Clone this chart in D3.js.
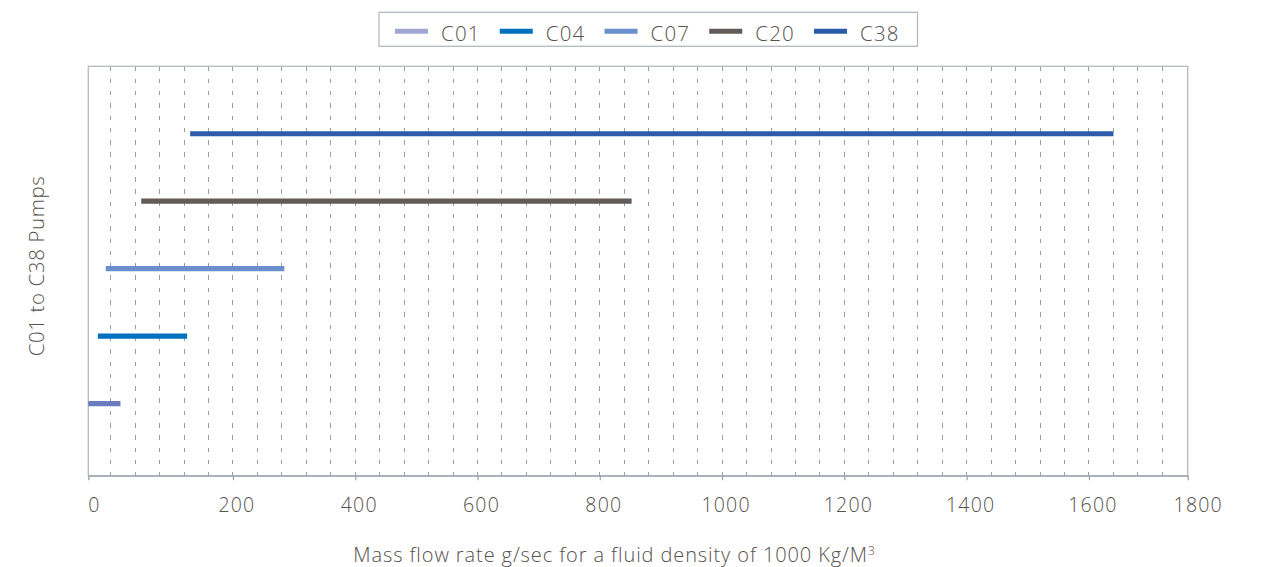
<!DOCTYPE html>
<html>
<head>
<meta charset="utf-8">
<script src="https://cdn.jsdelivr.net/npm/d3@7"></script>
<style>
  html, body { margin: 0; padding: 0; background: #ffffff; }
  svg { display: block; }
  text { font-family: "Open Sans", "Noto Sans", sans-serif; fill: #55514d; font-weight: 350; }
</style>
</head>
<body>
<svg id="chart" width="1261" height="567"></svg>
<script>
// ---- data ----
const pumps = ["C01", "C04", "C07", "C20", "C38"];
const flowMin = [-36.6, -21, -8, 50, 130];
const flowMax = [16, 125, 284, 852, 1640];
const barColors = ["#6a7bbf", "#0070c0", "#6b8fcc", "#625b57", "#2a5caa"];
const legendColors = ["#a0a8d2", "#0070c0", "#6b8fcc", "#625b57", "#2a5caa"];
const xTickLabels = [0, 200, 400, 600, 800, 1000, 1200, 1400, 1600, 1800];
const xTickMarks = [200, 400, 600, 800, 1000, 1200, 1400, 1600];
const xTitle = "Mass flow rate g/sec for a fluid density of 1000 Kg/M";
const xTitleSup = "3";
const yTitle = "C01 to C38 Pumps";

// ---- layout ----
const svg = d3.select("#chart");
const plot = { left: 88.3, right: 1187.7, top: 66.3, bottom: 475.7 };

const x = d3.scaleLinear().domain([-36.6, 1761.5]).range([plot.left, plot.right]);
const y = d3.scaleLinear().domain([-0.07, 6.0]).range([plot.bottom, plot.top]);

// gridlines every 40 units
const grid = d3.range(0, 1760, 40);
svg.append("g").selectAll("line").data(grid).join("line")
  .attr("x1", d => x(d)).attr("x2", d => x(d))
  .attr("y1", plot.top).attr("y2", plot.bottom)
  .attr("stroke", "#9a9ea4").attr("stroke-width", 1)
  .attr("stroke-dasharray", "4.5,7.8")
  .attr("shape-rendering", "crispEdges");

// frame
svg.append("rect")
  .attr("x", plot.left).attr("y", plot.top)
  .attr("width", plot.right - plot.left).attr("height", plot.bottom - plot.top)
  .attr("fill", "none").attr("stroke", "#b2bac2").attr("stroke-width", 1.3);

// x axis (tick marks)
const axis = d3.axisBottom(x).tickValues(xTickMarks).tickSize(4.5).tickFormat("");
const gAxis = svg.append("g").attr("transform", `translate(0,${plot.bottom})`).call(axis);
gAxis.select(".domain").attr("stroke", "#9aa2aa").attr("stroke-width", 1.3);
gAxis.selectAll(".tick line").attr("stroke", "#9aa2aa").attr("stroke-width", 1.2);

// tick labels
const labelX = (d, i) => {
  if (i === 0) return plot.left;
  if (i === xTickLabels.length - 1) return x(d) - 13;
  return x(d) + 4;
};
svg.append("g").selectAll("text").data(xTickLabels).join("text")
  .attr("x", labelX)
  .attr("y", 511.5)
  .attr("text-anchor", (d, i) => i === 0 ? "start" : "middle")
  .style("font-size", "19.5px")
  .style("letter-spacing", "1.2px")
  .text(d => d);

// bars (ranges)
svg.append("g").selectAll("line").data(pumps).join("line")
  .attr("x1", (d, i) => x(flowMin[i]))
  .attr("x2", (d, i) => x(flowMax[i]))
  .attr("y1", (d, i) => y(i + 1))
  .attr("y2", (d, i) => y(i + 1))
  .attr("stroke", (d, i) => barColors[i])
  .attr("stroke-width", 5.2);

// legend
const legend = svg.append("g");
legend.append("rect")
  .attr("x", 379).attr("y", 12.3).attr("width", 538.5).attr("height", 34)
  .attr("fill", "#fff").attr("stroke", "#b2bac2").attr("stroke-width", 1.3);
const item = legend.selectAll("g.item").data(pumps).join("g")
  .attr("class", "item")
  .attr("transform", (d, i) => `translate(${395 + i * 104.75},0)`);
item.append("line")
  .attr("x1", 0).attr("x2", 33).attr("y1", 31.3).attr("y2", 31.3)
  .attr("stroke", (d, i) => legendColors[i]).attr("stroke-width", 5);
item.append("text")
  .attr("x", 46).attr("y", 40.5)
  .style("font-size", "20.5px")
  .style("letter-spacing", "1.2px")
  .text(d => d);

// x title
const xt = svg.append("text")
  .attr("x", 614.5).attr("y", 561.5)
  .attr("text-anchor", "middle")
  .style("font-size", "20px")
  .style("letter-spacing", "0.9px");
xt.append("tspan").text(xTitle);
xt.append("tspan").attr("dy", -7).style("font-size", "12px").text(xTitleSup);

// y title
svg.append("text")
  .attr("transform", `translate(44,266) rotate(-90)`)
  .attr("text-anchor", "middle")
  .style("font-size", "20.5px")
  .style("letter-spacing", "0.6px")
  .text(yTitle);
</script>
</body>
</html>
